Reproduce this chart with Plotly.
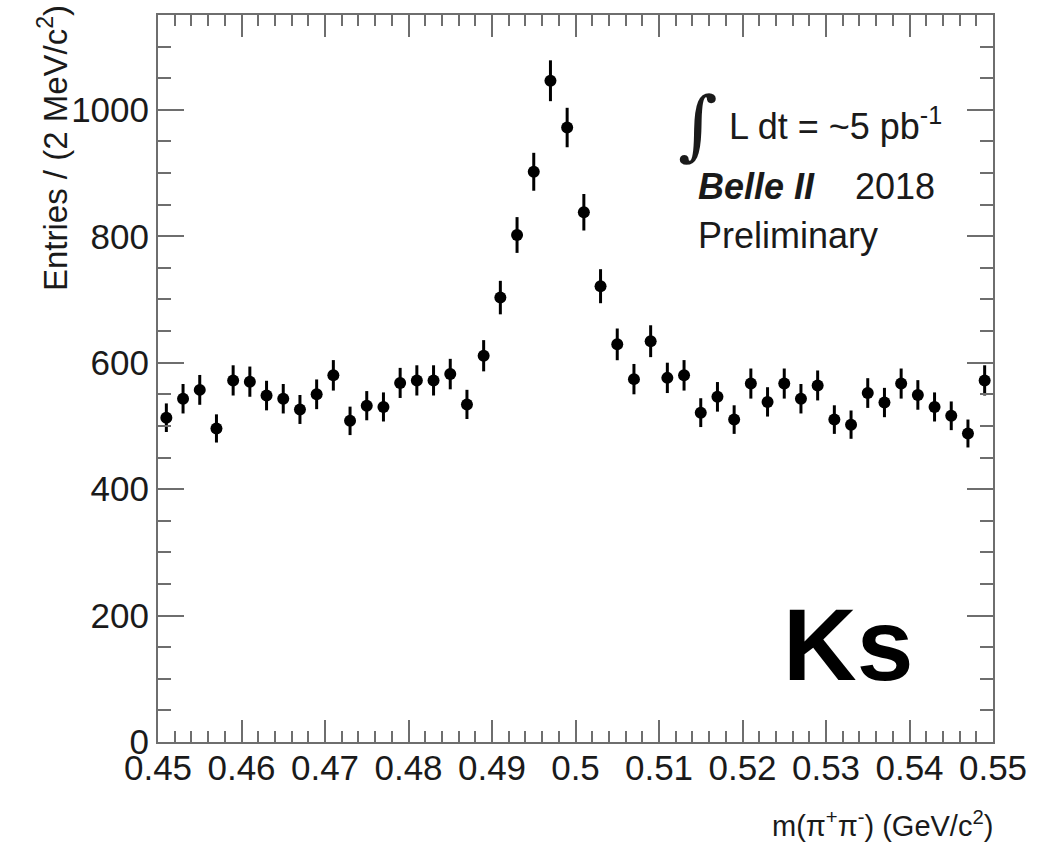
import plotly.graph_objects as go

# Di-pion invariant mass, 2 MeV/c^2 bins (bin centres in GeV/c^2)
mass = [0.451, 0.453, 0.455, 0.457, 0.459, 0.461, 0.463, 0.465, 0.467, 0.469,
        0.471, 0.473, 0.475, 0.477, 0.479, 0.481, 0.483, 0.485, 0.487, 0.489,
        0.491, 0.493, 0.495, 0.497, 0.499, 0.501, 0.503, 0.505, 0.507, 0.509,
        0.511, 0.513, 0.515, 0.517, 0.519, 0.521, 0.523, 0.525, 0.527, 0.529,
        0.531, 0.533, 0.535, 0.537, 0.539, 0.541, 0.543, 0.545, 0.547, 0.549]

entries = [513, 543, 557, 496, 572, 570, 548, 543, 526, 550,
           580, 508, 532, 530, 568, 572, 572, 582, 534, 611,
           703, 802, 902, 1046, 972, 838, 721, 629, 574, 634,
           576, 580, 521, 546, 510, 567, 538, 567, 543, 564,
           510, 502, 552, 537, 567, 549, 530, 516, 488, 572]

# Poisson uncertainties per bin
errors = [22.6, 23.3, 23.6, 22.3, 23.9, 23.9, 23.4, 23.3, 22.9, 23.5,
          24.1, 22.5, 23.1, 23.0, 23.8, 23.9, 23.9, 24.1, 23.1, 24.7,
          26.5, 28.3, 30.0, 32.3, 31.2, 28.9, 26.9, 25.1, 24.0, 25.2,
          24.0, 24.1, 22.8, 23.4, 22.6, 23.8, 23.2, 23.8, 23.3, 23.7,
          22.6, 22.4, 23.5, 23.2, 23.8, 23.4, 23.0, 22.7, 22.1, 23.9]

x_tickvals = [0.45, 0.46, 0.47, 0.48, 0.49, 0.50, 0.51, 0.52, 0.53, 0.54, 0.55]
x_ticktext = ["0.45", "0.46", "0.47", "0.48", "0.49", "0.5",
              "0.51", "0.52", "0.53", "0.54", "0.55"]
y_tickvals = [0, 200, 400, 600, 800, 1000]
y_ticktext = ["0", "200", "400", "600", "800", "1000"]

W, H = 1052, 845
L, R, T, B = 158, 59, 15, 103
FONT = "Liberation Sans, Arial, Helvetica, sans-serif"
FRAME = "#6e6e6e"
INK = "#1a1a1a"


def px_x(px):
    return (px - L) / (W - L - R)


def px_y(py):
    return (H - B - py) / (H - T - B)


fig = go.Figure()
fig.add_trace(go.Scatter(
    x=mass, y=entries, mode="markers",
    marker=dict(color="black", size=12),
    error_y=dict(type="data", array=errors, color="black",
                 thickness=3, width=0),
    hoverinfo="x+y",
))

axis_common = dict(
    ticks="inside", tickwidth=2, tickcolor=FRAME,
    showline=True, linecolor=FRAME, linewidth=2, mirror="ticks",
    showgrid=False, zeroline=False,
    tickfont=dict(family=FONT, size=35, color=INK),
)

fig.update_xaxes(
    range=[0.45, 0.55], tickvals=x_tickvals, ticktext=x_ticktext,
    ticklen=22, ticklabelstandoff=-6,
    minor=dict(ticks="inside", ticklen=11, tickwidth=2, tickcolor=FRAME,
               tick0=0.45, dtick=0.002, showgrid=False),
    **axis_common,
)
fig.update_yaxes(
    range=[0, 1150], tickvals=y_tickvals, ticktext=y_ticktext,
    ticklen=26,
    minor=dict(ticks="inside", ticklen=13, tickwidth=2, tickcolor=FRAME,
               tick0=0, dtick=50, showgrid=False),
    **axis_common,
)

annotations = [
    # y-axis title, aligned to the top end of the axis
    dict(text="Entries / (2 MeV/c<sup>2</sup>)", textangle=-90,
         x=px_x(53), y=px_y(3), xanchor="center", yanchor="top",
         font=dict(family=FONT, size=33, color=INK)),
    # x-axis title, aligned to the right end of the axis
    dict(text="m(π<sup>+</sup>π<sup>-</sup>) (GeV/c<sup>2</sup>)",
         x=px_x(995), y=px_y(824), xanchor="right", yanchor="middle",
         font=dict(family=FONT, size=29, color=INK)),
    # luminosity label
    dict(text="∫", x=px_x(698), y=px_y(124), xanchor="center",
         yanchor="middle",
         font=dict(family="DejaVu Serif, serif", size=76, color=INK)),
    dict(text="L dt = ~5 pb<sup>-1</sup>", x=px_x(727), y=px_y(124),
         xanchor="left", yanchor="middle",
         font=dict(family=FONT, size=36, color=INK)),
    dict(text="<b><i>Belle II</i></b>", x=px_x(696), y=px_y(187),
         xanchor="left", yanchor="middle",
         font=dict(family=FONT, size=36, color=INK)),
    dict(text="2018", x=px_x(853), y=px_y(187),
         xanchor="left", yanchor="middle",
         font=dict(family=FONT, size=36, color=INK)),
    dict(text="Preliminary", x=px_x(696), y=px_y(236),
         xanchor="left", yanchor="middle",
         font=dict(family=FONT, size=36, color=INK)),
    # particle label
    dict(text="<b>Ks</b>", x=px_x(781), y=px_y(645),
         xanchor="left", yanchor="middle",
         font=dict(family=FONT, size=102, color="black")),
]
for a in annotations:
    a.update(xref="paper", yref="paper", showarrow=False)

fig.update_layout(
    width=W, height=H,
    margin=dict(l=L, r=R, t=T, b=B, pad=0),
    paper_bgcolor="white", plot_bgcolor="white",
    showlegend=False,
    annotations=annotations,
)

fig.write_html("out.html")
